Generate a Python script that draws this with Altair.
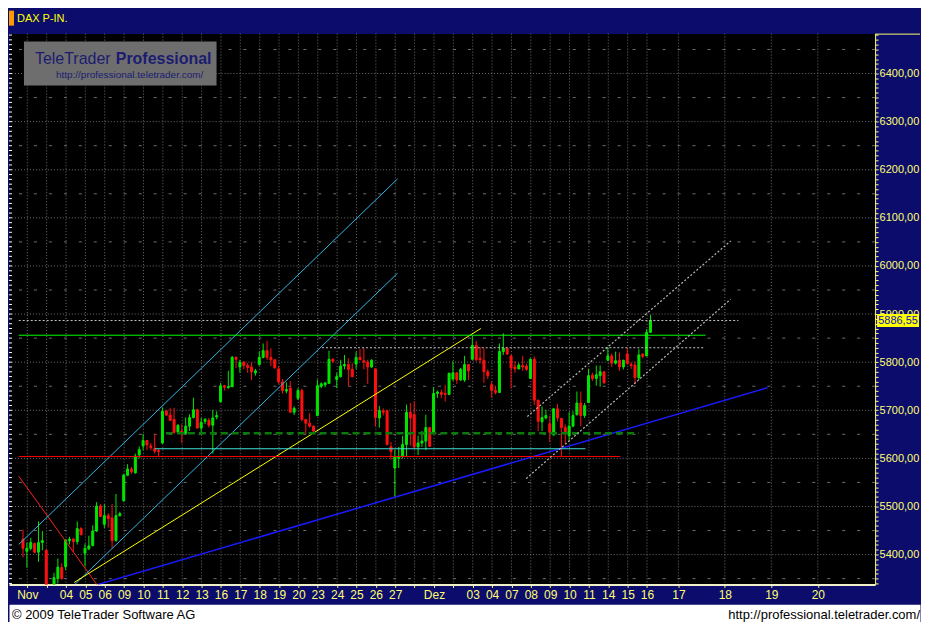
import altair as alt
import pandas as pd

# ---------------- data ----------------
opens = [5432, 5407, 5413, 5423, 5405, 5425, 5409, 5330, 5322, 5350,
         5373, 5375, 5429, 5432, 5427, 5454, 5403, 5412, 5419, 5449,
         5501, 5463, 5481, 5476, 5429, 5481, 5512, 5565, 5578, 5570,
         5607, 5626, 5637, 5626, 5620, 5616, 5632, 5698, 5690, 5681,
         5654, 5657, 5652, 5667, 5685, 5701, 5663, 5677, 5679, 5669,
         5686, 5718, 5751, 5747, 5749, 5810, 5790, 5800, 5793, 5790,
         5778, 5795, 5810, 5824, 5810, 5805, 5786, 5759, 5740, 5746,
         5696, 5725, 5741, 5681, 5673, 5667, 5689, 5750, 5753, 5756,
         5806, 5764, 5770, 5792, 5795, 5785, 5796, 5810, 5803, 5800,
         5790, 5786, 5684, 5699, 5699, 5624, 5580, 5600, 5604, 5629,
         5696, 5691, 5624, 5632, 5636, 5664, 5652, 5735, 5737, 5735,
         5733, 5765, 5778, 5763, 5763, 5795, 5806, 5835, 5808, 5804,
         5780, 5753, 5741, 5737, 5822, 5829, 5813, 5790, 5786, 5793,
         5792, 5766, 5806, 5721, 5676, 5684, 5672, 5649, 5703, 5683,
         5664, 5647, 5667, 5691, 5715, 5689, 5716, 5773, 5766, 5772,
         5780, 5804, 5813, 5798, 5804, 5790, 5817, 5795, 5794, 5768,
         5817, 5813, 5862]
highs = [5452, 5425, 5435, 5425, 5469, 5449, 5411, 5338, 5362, 5392,
         5382, 5432, 5437, 5435, 5469, 5457, 5423, 5439, 5461, 5509,
         5505, 5505, 5486, 5505, 5526, 5489, 5568, 5588, 5582, 5610,
         5625, 5651, 5638, 5632, 5651, 5620, 5706, 5701, 5705, 5705,
         5671, 5671, 5685, 5692, 5726, 5703, 5684, 5684, 5684, 5701,
         5698, 5757, 5753, 5782, 5813, 5812, 5805, 5802, 5798, 5800,
         5786, 5822, 5839, 5844, 5829, 5806, 5792, 5765, 5758, 5761,
         5708, 5746, 5745, 5681, 5694, 5668, 5764, 5758, 5758, 5824,
         5808, 5778, 5805, 5815, 5808, 5798, 5822, 5827, 5829, 5805,
         5806, 5787, 5709, 5704, 5701, 5634, 5618, 5624, 5647, 5712,
         5715, 5719, 5647, 5657, 5691, 5665, 5748, 5741, 5743, 5753,
         5778, 5802, 5779, 5788, 5813, 5796, 5854, 5844, 5832, 5829,
         5785, 5760, 5751, 5839, 5860, 5830, 5814, 5802, 5798, 5813,
         5797, 5808, 5812, 5722, 5708, 5701, 5689, 5704, 5713, 5684,
         5671, 5696, 5698, 5739, 5739, 5715, 5786, 5778, 5793, 5793,
         5781, 5831, 5818, 5822, 5820, 5805, 5829, 5800, 5802, 5827,
         5818, 5869, 5898]
lows = [5394, 5373, 5409, 5403, 5385, 5409, 5325, 5312, 5315, 5340,
        5348, 5368, 5421, 5405, 5421, 5441, 5376, 5409, 5417, 5447,
        5478, 5455, 5456, 5413, 5427, 5479, 5510, 5563, 5568, 5568,
        5600, 5617, 5617, 5617, 5610, 5605, 5630, 5688, 5678, 5651,
        5651, 5632, 5651, 5657, 5683, 5662, 5654, 5671, 5664, 5610,
        5681, 5716, 5741, 5745, 5748, 5788, 5778, 5785, 5778, 5763,
        5772, 5793, 5808, 5805, 5792, 5787, 5755, 5735, 5735, 5695,
        5690, 5721, 5677, 5651, 5664, 5651, 5688, 5746, 5748, 5755,
        5798, 5746, 5768, 5785, 5750, 5768, 5786, 5805, 5785, 5755,
        5788, 5667, 5664, 5689, 5627, 5597, 5520, 5580, 5600, 5604,
        5627, 5620, 5607, 5624, 5617, 5624, 5650, 5726, 5725, 5718,
        5732, 5761, 5755, 5761, 5759, 5763, 5805, 5802, 5797, 5757,
        5765, 5726, 5733, 5736, 5815, 5815, 5745, 5778, 5785, 5782,
        5782, 5765, 5711, 5657, 5657, 5681, 5634, 5647, 5677, 5604,
        5630, 5637, 5665, 5689, 5667, 5684, 5715, 5761, 5751, 5749,
        5755, 5803, 5790, 5795, 5782, 5785, 5795, 5786, 5755, 5763,
        5808, 5812, 5861]
closes = [5413, 5413, 5425, 5405, 5425, 5429, 5330, 5322, 5352, 5374,
          5350, 5430, 5432, 5427, 5454, 5441, 5413, 5418, 5449, 5501,
          5479, 5481, 5475, 5429, 5481, 5485, 5565, 5578, 5572, 5605,
          5618, 5637, 5628, 5622, 5615, 5614, 5698, 5690, 5679, 5654,
          5669, 5652, 5667, 5685, 5701, 5663, 5675, 5681, 5669, 5684,
          5689, 5751, 5748, 5749, 5810, 5806, 5800, 5793, 5789, 5780,
          5782, 5810, 5824, 5810, 5805, 5788, 5759, 5741, 5743, 5696,
          5704, 5741, 5681, 5673, 5667, 5657, 5751, 5755, 5757, 5806,
          5802, 5770, 5792, 5795, 5785, 5770, 5810, 5805, 5800, 5790,
          5804, 5685, 5699, 5696, 5629, 5614, 5604, 5604, 5629, 5696,
          5684, 5624, 5632, 5636, 5664, 5625, 5735, 5738, 5733, 5733,
          5777, 5778, 5763, 5785, 5795, 5782, 5835, 5805, 5805, 5780,
          5772, 5741, 5737, 5822, 5829, 5817, 5788, 5786, 5794, 5790,
          5785, 5806, 5721, 5677, 5685, 5689, 5654, 5703, 5684, 5664,
          5651, 5667, 5689, 5715, 5689, 5710, 5772, 5766, 5774, 5780,
          5757, 5813, 5798, 5803, 5790, 5804, 5797, 5793, 5768, 5815,
          5812, 5862, 5886.55]

day_labels = ["Nov", "", "04", "05", "06", "09", "10", "11", "12", "13",
              "16", "17", "18", "19", "20", "23", "24", "25", "26", "27",
              "", "Dez", "", "03", "04", "07", "08", "09", "10", "11",
              "14", "15", "16"]
future_labels = ["17", "18", "19", "20"]
future_slots = [169.2, 181.2, 193.2, 205.2]

# drawn lines: candle-slot / price end points
line_names = ["red_down", "blue_up1", "blue_up2", "yellow", "blue",
              "green_h", "last_h", "grey_h", "dkgreen_h", "cyan_h", "red_h",
              "chan_up", "chan_lo"]
line_x1 = [-1.1, -1.1, 13.4, 13.2, 19.4, -1.1, -1.1, 77.2, 36.9, 34.0, -1.1, 130.2, 129.9]
line_p1 = [5563, 5421, 5338, 5342, 5338, 5856, 5886.55, 5830, 5652, 5620, 5604, 5687, 5558]
line_x2 = [19.3, 96.7, 96.7, 118.2, 192.2, 176.2, 184.7, 175.7, 158.9, 145.2, 154.2, 182.7, 182.7]
line_p2 = [5335, 6181, 5985, 5870, 5747, 5856, 5886.55, 5830, 5652, 5620, 5604, 6052, 5931]

# ---------------- styles ----------------
NAVY = "#0c0c6c"
YEL = "#ffff70"
UP = "#00e600"
DOWN = "#ff1010"
FONT = "Liberation Sans"
styles = {
    "red_down": ("#ff2020", 1, None),
    "blue_up1": ("#33b5e5", 1, None),
    "blue_up2": ("#33b5e5", 1, None),
    "yellow": ("#ffff00", 1, None),
    "blue": ("#1a1aff", 1.5, None),
    "green_h": ("#00ff00", 1, None),
    "last_h": ("#c8c8c8", 1, [2, 2]),
    "grey_h": ("#c8c8c8", 1, [2, 2]),
    "dkgreen_h": ("#0a7a0a", 2.5, [7, 4]),
    "cyan_h": ("#40e0d8", 1.2, None),
    "red_h": ("#ff0000", 1, None),
    "chan_up": ("#b8b8b8", 1.2, [2, 2]),
    "chan_lo": ("#b8b8b8", 1.2, [2, 2]),
}

W, H = 868, 552
xs = alt.Scale(domain=[-2.33, 218.7], nice=False, zero=False)
ys = alt.Scale(domain=[5338, 6483], nice=False, zero=False)

n = len(opens)
df = pd.DataFrame({"i": list(range(n)), "o": opens, "h": highs, "l": lows, "c": closes})
df["dir"] = ["up" if c >= o else "down" for o, c in zip(opens, closes)]

day_slots = [5 * k + 1.1 for k in range(len(day_labels))]
tick_vals = day_slots + future_slots
tick_labs = day_labels + future_labels
keys = [round(v * 10) for v in tick_vals]
label_expr = ("[" + ",".join("'" + s + "'" for s in tick_labs) + "][indexof(["
              + ",".join(str(k) for k in keys) + "], round(datum.value*10))]")

x_axis = alt.Axis(values=tick_vals, labelExpr=label_expr, title=None, grid=False,
                  tickColor=YEL, tickSize=3, domainColor="#f0f0c8", domainWidth=2,
                  labelColor=YEL, labelFont=FONT, labelFontSize=12, labelPadding=2,
                  labelOverlap=False, labelFlush=False, labelBound=False,
                  minExtent=18, maxExtent=18)
y_axis = alt.Axis(orient="right", values=list(range(5340, 6490, 10)),
                  labelExpr="datum.value % 100 === 0 ? replace(format(datum.value, '.2f'), '.', ',') : ''",
                  title=None, grid=False, tickColor=YEL, tickSize=3, domainColor=YEL,
                  labelColor=YEL, labelFont=FONT, labelFontSize=11, labelPadding=1,
                  labelOverlap=False, labelFlush=False, labelBound=False,
                  minExtent=45, maxExtent=45)


def X(field):
    return alt.X(field, scale=xs, axis=x_axis)


def Y(field):
    return alt.Y(field, scale=ys, axis=y_axis)


GRID = "#6e6e6e"
vgrid = alt.Chart(pd.DataFrame({"t": tick_vals})).mark_rule(
    color=GRID, strokeDash=[1, 2], strokeWidth=1).encode(x=X("t:Q"))
hgrid100 = alt.Chart(pd.DataFrame({"v": list(range(5400, 6500, 100))})).mark_rule(
    color=GRID, strokeDash=[1, 2], strokeWidth=1).encode(y=Y("v:Q"))
hgrid50 = alt.Chart(pd.DataFrame({"v": list(range(5350, 6500, 100))})).mark_rule(
    color=GRID, strokeDash=[3, 12], strokeWidth=1).encode(y=Y("v:Q"))
lticks = alt.Chart(pd.DataFrame({"v": list(range(5340, 6490, 10))})).mark_rule(
    color="white", strokeWidth=1).encode(y=Y("v:Q"), x=alt.value(0), x2=alt.value(3))

one = pd.DataFrame({"a": [0]})
LOGO_TXT = "#1c1c70"
logo_rect = alt.Chart(one).mark_rect(color="#6e6e6e").encode(
    x=alt.value(15), x2=alt.value(208), y=alt.value(8), y2=alt.value(52))
logo_t1 = alt.Chart(one).mark_text(text="TeleTrader", align="left", baseline="alphabetic",
                                   font=FONT, fontSize=16, color=LOGO_TXT).encode(
    x=alt.value(26), y=alt.value(30))
logo_t2 = alt.Chart(one).mark_text(text="Professional", align="left", baseline="alphabetic",
                                   font=FONT, fontSize=16, fontWeight="bold", color=LOGO_TXT).encode(
    x=alt.value(107), y=alt.value(30))
logo_t3 = alt.Chart(one).mark_text(text="http://professional.teletrader.com/", align="left",
                                   baseline="alphabetic", font=FONT, fontSize=10,
                                   color=LOGO_TXT).encode(
    x=alt.value(47), y=alt.value(44))

color_enc = alt.Color("dir:N", scale=alt.Scale(domain=["up", "down"], range=[UP, DOWN]), legend=None)
wicks = alt.Chart(df).mark_rule(strokeWidth=1, clip=True).encode(
    x=X("i:Q"), y=Y("l:Q"), y2="h:Q", color=color_enc)
bodies = alt.Chart(df).mark_bar(size=2, strokeWidth=1, clip=True).encode(
    x=X("i:Q"), y=Y("o:Q"), y2="c:Q", color=color_enc, stroke=color_enc)

ldf = pd.DataFrame({"line": line_names, "x1": line_x1, "p1": line_p1, "x2": line_x2, "p2": line_p2})
line_layers = []
for nm in line_names:
    col, wd, dash = styles[nm]
    mk = dict(color=col, strokeWidth=wd, clip=True)
    if dash:
        mk["strokeDash"] = dash
    line_layers.append(
        alt.Chart(ldf).transform_filter(alt.datum.line == nm).mark_rule(**mk).encode(
            x=X("x1:Q"), x2="x2:Q", y=Y("p1:Q"), y2="p2:Q"))

last = pd.DataFrame({"p": [closes[-1]]})
last_box = alt.Chart(last).mark_tick(orient="horizontal", size=42, thickness=13, color="#ffff00",
                                     opacity=1).encode(y=Y("p:Q"), x=alt.value(W + 23))
last_txt = alt.Chart(last).transform_calculate(
    lab="replace(format(datum.p, '.2f'), '.', ',')").mark_text(
    align="center", baseline="middle", font=FONT, fontSize=11, color="#1010c0").encode(
    y=Y("p:Q"), x=alt.value(W + 23), text="lab:N")
panel_top = alt.Chart(one).mark_rule(color=YEL, strokeWidth=1).encode(
    x=alt.value(W), x2=alt.value(W + 45), y=alt.value(0.5))

main = alt.layer(vgrid, hgrid100, hgrid50, lticks, logo_rect, logo_t1, logo_t2, logo_t3,
                 wicks, bodies, *line_layers, last_box, last_txt, panel_top).properties(
    width=W, height=H, view=alt.ViewBackground(fill="black", stroke="transparent"))

hdr_bar = alt.Chart(one).mark_rect(color="#ff9900").encode(
    x=alt.value(0), x2=alt.value(5), y=alt.value(1), y2=alt.value(16))
hdr_txt = alt.Chart(one).mark_text(text="DAX P-IN.", align="left", baseline="middle",
                                   font=FONT, fontSize=11, color="#ffff00").encode(
    x=alt.value(8), y=alt.value(9))
header = alt.layer(hdr_bar, hdr_txt).properties(width=913, height=17)

ft1 = alt.Chart(one).mark_text(text="\u00a9 2009 TeleTrader Software AG", align="left",
                               baseline="alphabetic", font=FONT, fontSize=13,
                               color="black").encode(x=alt.value(3), y=alt.value(15))
ft2 = alt.Chart(one).mark_text(text="http://professional.teletrader.com/", align="right",
                               baseline="alphabetic", font=FONT, fontSize=13,
                               color="black").encode(x=alt.value(913), y=alt.value(15))
footer = alt.layer(ft1, ft2).properties(
    width=913, height=19, view=alt.ViewBackground(fill="white", stroke="transparent"))

chart = alt.vconcat(header, main, footer, spacing=0).properties(padding=0).configure(
    background=NAVY).configure_view(stroke="transparent")

chart.save("out.html", embed_options={"renderer": "svg", "actions": False})
